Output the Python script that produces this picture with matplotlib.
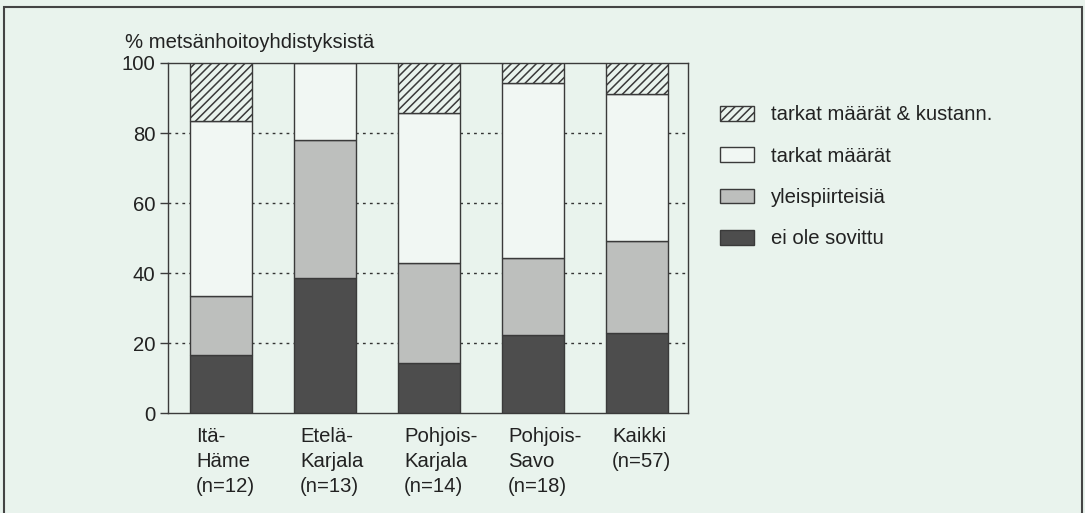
import matplotlib.pyplot as plt
from matplotlib.patches import Patch, Rectangle

plt.rcParams['font.family'] = ['Liberation Sans', 'DejaVu Sans']
plt.rcParams['hatch.linewidth'] = 1.1

# data (% of associations)
areas = ["Itä-\nHäme\n(n=12)", "Etelä-\nKarjala\n(n=13)", "Pohjois-\nKarjala\n(n=14)",
         "Pohjois-\nSavo\n(n=18)", "Kaikki\n(n=57)"]
ei_ole = [16.7, 38.5, 14.3, 22.2, 22.8]
yleis = [16.7, 39.5, 28.6, 22.2, 26.3]
tarkat = [50.0, 22.0, 42.9, 50.0, 42.1]
kustann = [16.6, 0.0, 14.2, 5.6, 8.8]

bg = "#e9f3ed"
edge = "#3a3a3a"
fs = 14.6

fig = plt.figure(figsize=(10.85, 5.13), dpi=100, facecolor=bg)
ax = fig.add_axes([0.1548, 0.1949, 0.4792, 0.6823])
ax.set_facecolor(bg)

x = list(range(len(areas)))
w = 0.6
bottom2 = [a + b for a, b in zip(ei_ole, yleis)]
bottom3 = [a + b for a, b in zip(bottom2, tarkat)]

ax.bar(x, ei_ole, w, color="#4d4d4d", edgecolor=edge, lw=1, zorder=3)
ax.bar(x, yleis, w, bottom=ei_ole, color="#bdbfbd", edgecolor=edge, lw=1, zorder=3)
ax.bar(x, tarkat, w, bottom=bottom2, color="#f1f7f3", edgecolor=edge, lw=1, zorder=3)
ax.bar(x, kustann, w, bottom=bottom3, color=bg, edgecolor=edge, hatch="////", lw=1, zorder=3)

ax.set_xlim(-0.51, 4.49)
ax.set_ylim(0, 100)
ax.set_yticks([0, 20, 40, 60, 80, 100])
ax.set_xticks([])
ax.tick_params(axis='y', direction='out', length=6, width=1, color=edge, labelsize=fs, pad=3,
               labelcolor="#222222")
for s in ax.spines.values():
    s.set_color(edge)
    s.set_linewidth(1)
for yy in [20, 40, 60, 80]:
    ax.axhline(yy, color="#333333", lw=1, ls=(0, (2, 3)), zorder=1)

for xi, lab in zip(x, areas):
    ax.text(xi - 0.24, -4.0, lab, ha='left', va='top', fontsize=fs, linespacing=1.4,
            color="#222222")

ax.text(-0.92, 103, "% metsänhoitoyhdistyksistä", ha='left', va='bottom', fontsize=fs,
        color="#222222")

handles = [Patch(facecolor=bg, edgecolor=edge, hatch="////", lw=1),
           Patch(facecolor="#f1f7f3", edgecolor=edge, lw=1),
           Patch(facecolor="#bdbfbd", edgecolor=edge, lw=1),
           Patch(facecolor="#4d4d4d", edgecolor=edge, lw=1)]
labels = ["tarkat määrät & kustann.", "tarkat määrät", "yleispiirteisiä", "ei ole sovittu"]
fig.legend(handles, labels, loc='upper left', bbox_to_anchor=(0.647, 0.83), frameon=False,
           fontsize=fs, handlelength=1.65, handleheight=0.75, labelspacing=1.1,
           handletextpad=0.85, labelcolor="#222222")

fig.patches.append(Rectangle((0.004, -0.01), 0.993, 0.996, transform=fig.transFigure,
                             fill=False, edgecolor="#444444", lw=1.5))

fig.savefig("out.png", dpi=100, facecolor=bg)
